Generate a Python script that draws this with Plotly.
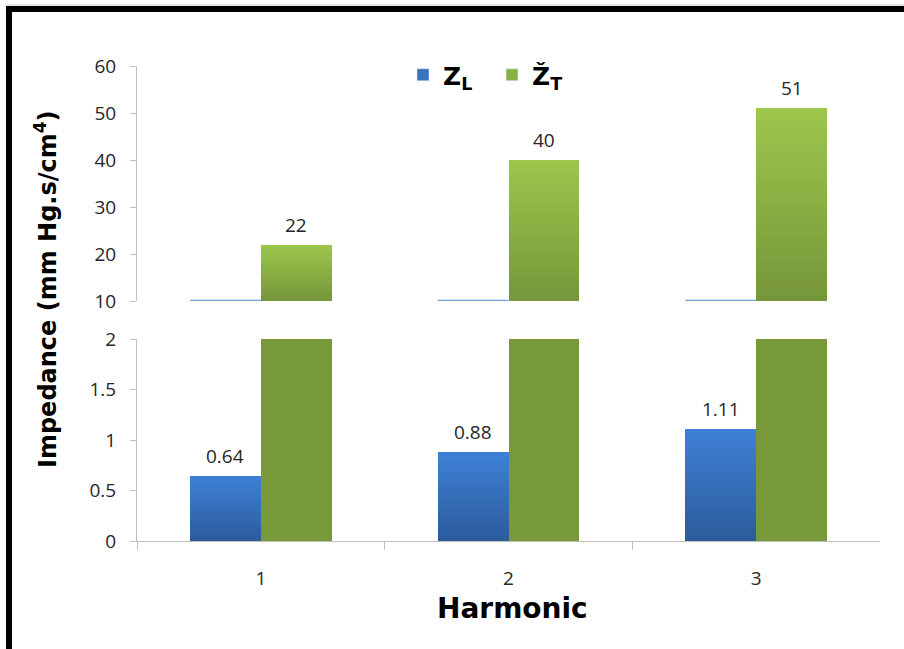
import numpy as np
import plotly.graph_objects as go

# ---- data ----
harmonics = [1, 2, 3]
tick_labels = ["1", "2", "3"]
z_l = [0.64, 0.88, 1.11]      # longitudinal impedance
z_t = [22, 40, 51]            # total impedance
z_l_labels = ["0.64", "0.88", "1.11"]
z_t_labels = ["22", "40", "51"]

# broken y-axis ranges
LOW_RANGE = [0, 2]
HIGH_RANGE = [10, 60]

# ---- figure geometry (pixels) ----
W, H = 904, 649
L, R, T, B = 137, 24, 66, 108
PW, PH = W - L - R, H - T - B


def px(x):
    return (x - L) / PW


def py(y):
    return (H - B - y) / PH


BAR_W = 1 / 3.5  # Excel-like 150% gap width
N_SLICES = 32

BLUE_TOP, BLUE_BOT = np.array([62, 128, 214]), np.array([44, 92, 156])
GREEN_TOP, GREEN_BOT = np.array([157, 198, 76]), np.array([118, 150, 58])
GREEN_SOLID = "rgb(120,153,58)"


def rgb(c):
    return "rgb(%d,%d,%d)" % tuple(int(round(v)) for v in c)


def gradient_bars(values, floor, offset, c_top, c_bot, xa, ya):
    """Overlapping slices so each bar fades from c_bot (floor) to c_top (value)."""
    vals = np.asarray(values, dtype=float)
    traces = []
    for k in range(N_SLICES):
        t = k / (N_SLICES - 1)
        base = floor + (vals - floor) * k / N_SLICES
        traces.append(go.Bar(
            x=harmonics, y=vals - base, base=base,
            width=BAR_W, offset=offset,
            marker=dict(color=rgb(c_bot + (c_top - c_bot) * t), line=dict(width=0)),
            showlegend=False, hoverinfo="skip", xaxis=xa, yaxis=ya,
        ))
    return traces


fig = go.Figure()

# lower panel: Z_L gradient bars, Z_T solid (clipped at 2)
for tr in gradient_bars(z_l, LOW_RANGE[0], -BAR_W, BLUE_TOP, BLUE_BOT, "x", "y"):
    fig.add_trace(tr)
fig.add_trace(go.Bar(x=harmonics, y=z_t, width=BAR_W, offset=0,
                     marker=dict(color=GREEN_SOLID, line=dict(width=0)),
                     showlegend=False, hoverinfo="skip", xaxis="x", yaxis="y"))

# upper panel: Z_T gradient bars starting at the break
for tr in gradient_bars(z_t, HIGH_RANGE[0], 0, GREEN_TOP, GREEN_BOT, "x2", "y2"):
    fig.add_trace(tr)

# Z_L bars fall below the upper panel: only their cut edge shows at the break
edge_x, edge_y = [], []
for h, v in zip(harmonics, z_l):
    if v < HIGH_RANGE[0]:
        edge_x += [h - BAR_W, h, None]
        edge_y += [HIGH_RANGE[0], HIGH_RANGE[0], None]
fig.add_trace(go.Scatter(x=edge_x, y=edge_y, mode="lines",
                         line=dict(color="rgb(110,160,220)", width=2.5),
                         showlegend=False, hoverinfo="skip", xaxis="x2", yaxis="y2",
                         cliponaxis=False))

# legend entries
fig.add_trace(go.Bar(x=[None], y=[None], name="Z<sub>L</sub>",
                     marker=dict(color="rgb(58,114,190)")))
fig.add_trace(go.Bar(x=[None], y=[None], name="Ž<sub>T</sub>",
                     marker=dict(color="rgb(138,178,70)")))

# value labels above the bars
label_font = dict(family="Open Sans", size=19, color="#262626")
annotations = []
for h, v, s in zip(harmonics, z_l, z_l_labels):
    annotations.append(dict(x=h - BAR_W / 2, y=v, xref="x", yref="y", text=s,
                            showarrow=False, yanchor="bottom", yshift=5, font=label_font))
for h, v, s in zip(harmonics, z_t, z_t_labels):
    annotations.append(dict(x=h + BAR_W / 2, y=v, xref="x2", yref="y2", text=s,
                            showarrow=False, yanchor="bottom", yshift=5, font=label_font))

# axis titles
annotations += [
    dict(text="<b>Impedance (mm Hg.s/cm<sup>4</sup>)</b>", xref="paper", yref="paper",
         x=px(46), y=py(290), xanchor="center", yanchor="middle",
         textangle=-90, showarrow=False,
         font=dict(family="DejaVu Sans", size=24, color="black")),
    dict(text="<b>Harmonic</b>", xref="paper", yref="paper",
         x=px(512), y=py(608), xanchor="center", yanchor="middle", showarrow=False,
         font=dict(family="DejaVu Sans", size=28, color="black")),
]

axis_col = "#bfbfbf"
tick_font = dict(family="Open Sans", size=19, color="#262626")
low_top = py(339)
high_bot = py(301)

fig.update_layout(
    width=W, height=H,
    margin=dict(l=L, r=R, t=T, b=B),
    paper_bgcolor="white", plot_bgcolor="white",
    barmode="overlay", bargap=0,
    xaxis=dict(domain=[0, 1], range=[0.5, 3.5], anchor="y",
               tickmode="array", tickvals=harmonics, ticktext=tick_labels,
               ticks="", tickfont=tick_font, ticklabelstandoff=20,
               minor=dict(tickmode="array", tickvals=[0.5, 1.5, 2.5],
                          ticks="outside", ticklen=8, tickcolor=axis_col),
               showline=True, linecolor=axis_col, linewidth=1,
               showgrid=False, zeroline=False),
    xaxis2=dict(domain=[0, 1], range=[0.5, 3.5], anchor="y2", matches="x",
                showticklabels=False, ticks="", showline=False,
                showgrid=False, zeroline=False),
    yaxis=dict(domain=[0, low_top], range=LOW_RANGE, anchor="x",
               tickmode="array", tickvals=[0, 0.5, 1, 1.5, 2],
               ticktext=["0", "0.5", "1", "1.5", "2"],
               ticks="outside", ticklen=6, tickcolor=axis_col,
               tickfont=tick_font, ticklabelstandoff=10,
               showline=True, linecolor=axis_col, linewidth=1,
               showgrid=False, zeroline=False),
    yaxis2=dict(domain=[high_bot, 1], range=HIGH_RANGE, anchor="x2",
                tickmode="array", tickvals=[10, 20, 30, 40, 50, 60],
                ticks="outside", ticklen=6, tickcolor=axis_col,
                tickfont=tick_font, ticklabelstandoff=10,
                showline=True, linecolor=axis_col, linewidth=1,
                showgrid=False, zeroline=False),
    legend=dict(orientation="h", x=px(403), y=py(75), xanchor="left", yanchor="middle",
                entrywidth=44,
                font=dict(family="DejaVu Sans", size=25, color="black", weight="bold"),
                bgcolor="rgba(0,0,0,0)", itemclick=False, itemdoubleclick=False),
    annotations=annotations,
    shapes=[
        # frame: thick black top and left edges
        dict(type="rect", xref="paper", yref="paper", x0=px(6), x1=px(W + 5),
             y0=py(6), y1=py(12), fillcolor="black", line=dict(width=0), layer="above"),
        dict(type="rect", xref="paper", yref="paper", x0=px(6), x1=px(12),
             y0=py(6), y1=py(H + 5), fillcolor="black", line=dict(width=0), layer="above"),
        dict(type="line", xref="paper", yref="paper", x0=px(5), x1=px(W + 5),
             y0=py(5), y1=py(5), line=dict(color="#cfcfcf", width=1)),
    ],
)

fig.write_html("out.html")
